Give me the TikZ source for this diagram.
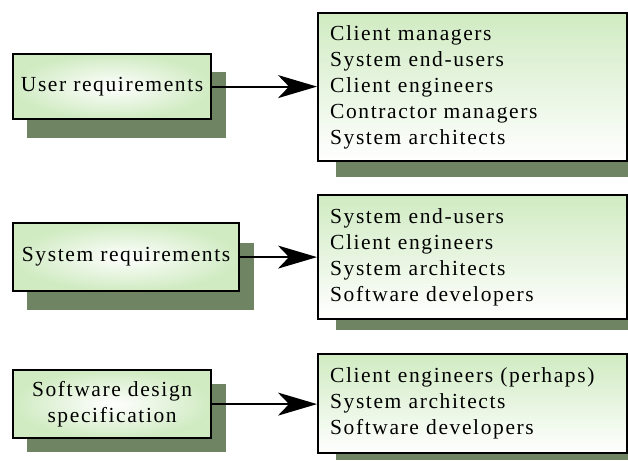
\documentclass[tikz,border=0pt]{standalone}
\usepackage{fontspec}
\setmainfont{Liberation Serif}[LetterSpace=7.5]
\usetikzlibrary{arrows.meta,backgrounds,calc}
\definecolor{boxgreen}{RGB}{208,235,194}
\definecolor{shadowgreen}{RGB}{110,132,98}
\tikzset{
  txt/.style={font=\fontsize{21.5}{26}\selectfont},
  leftbox/.style={txt, draw=black, line width=2.2pt, inner color=white, outer color=boxgreen,
     anchor=north west, align=center, inner sep=0pt},
  rightbox/.style={txt, draw=black, line width=2.2pt, top color=boxgreen, bottom color=white,
     anchor=north west, align=left, text width=285pt, inner xsep=12pt, inner ysep=0pt},
  shadowbox/.style={fill=shadowgreen},
  conn/.style={line width=2pt, -{Stealth[length=39pt,width=23pt,inset=11pt]}}
}
\begin{document}
\begin{tikzpicture}[x=1pt,y=-1pt]
\useasboundingbox (0,0) rectangle (628,460);
% shadows
\fill[shadowbox] (27,72) rectangle (226,138);
\fill[shadowbox] (27,243) rectangle (254,310);
\fill[shadowbox] (27,384) rectangle (226,452);
\fill[shadowbox] (336,29) rectangle (628,177);
\fill[shadowbox] (336,206) rectangle (628,330);
\fill[shadowbox] (336,365) rectangle (628,460);
% left boxes
\node[leftbox, minimum width=198pt, minimum height=65pt] (u) at (12,53) {User requirements};
\node[leftbox, minimum width=226pt, minimum height=68pt] (s) at (12,222) {System requirements};
\node[leftbox, minimum width=198pt, minimum height=68pt] (d) at (12,369) {Software design\\specification};
% right boxes
\node[rightbox, minimum height=148pt] (ru) at (317,12) {Client managers\\System end-users\\Client engineers\\Contractor managers\\System architects};
\node[rightbox, minimum height=124pt] (rs) at (317,194) {System end-users\\Client engineers\\System architects\\Software developers};
\node[rightbox, minimum height=99pt] (rd) at (317,353) {Client engineers (perhaps)\\System architects\\Software developers};
% connectors
\draw[conn] (u.east) -- (u.east -| ru.west);
\draw[conn] (s.east) -- (s.east -| rs.west);
\draw[conn] (d.east) -- (d.east -| rd.west);
\end{tikzpicture}
\end{document}
